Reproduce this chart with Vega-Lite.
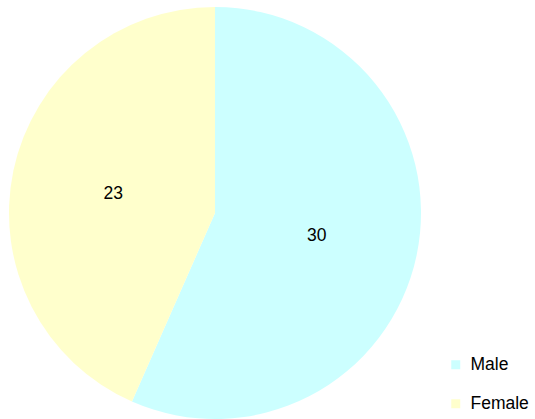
{
  "$schema": "https://vega.github.io/schema/vega-lite/v6.json",
  "width": 430,
  "height": 426,
  "autosize": "none",
  "padding": {"left": 0, "top": 0, "right": 105, "bottom": 0},
  "background": "white",
  "config": {"view": {"stroke": null}, "font": "Liberation Sans"},
  "data": {"values": [
    {"gender": "Male", "count": 30, "order": 1},
    {"gender": "Female", "count": 23, "order": 2}
  ]},
  "encoding": {
    "theta": {"field": "count", "type": "quantitative", "stack": true},
    "order": {"field": "order", "type": "quantitative"}
  },
  "layer": [
    {
      "mark": {"type": "arc", "outerRadius": 206},
      "encoding": {
        "color": {
          "field": "gender", "type": "nominal",
          "scale": {"domain": ["Male", "Female"], "range": ["#CCFFFF", "#FFFFCC"]},
          "legend": {
            "title": null, "orient": "none", "legendX": 447, "legendY": 356,
            "symbolType": "square", "symbolSize": 81, "symbolStrokeWidth": 0,
            "labelFontSize": 17.5, "labelFont": "Liberation Sans", "labelColor": "#000000",
            "rowPadding": 20, "labelOffset": 6
          }
        }
      }
    },
    {
      "mark": {"type": "text", "radius": 104, "dy": 2, "fontSize": 17.5, "font": "Liberation Sans", "color": "#000000"},
      "encoding": {"text": {"field": "count", "type": "quantitative"}}
    }
  ]
}
